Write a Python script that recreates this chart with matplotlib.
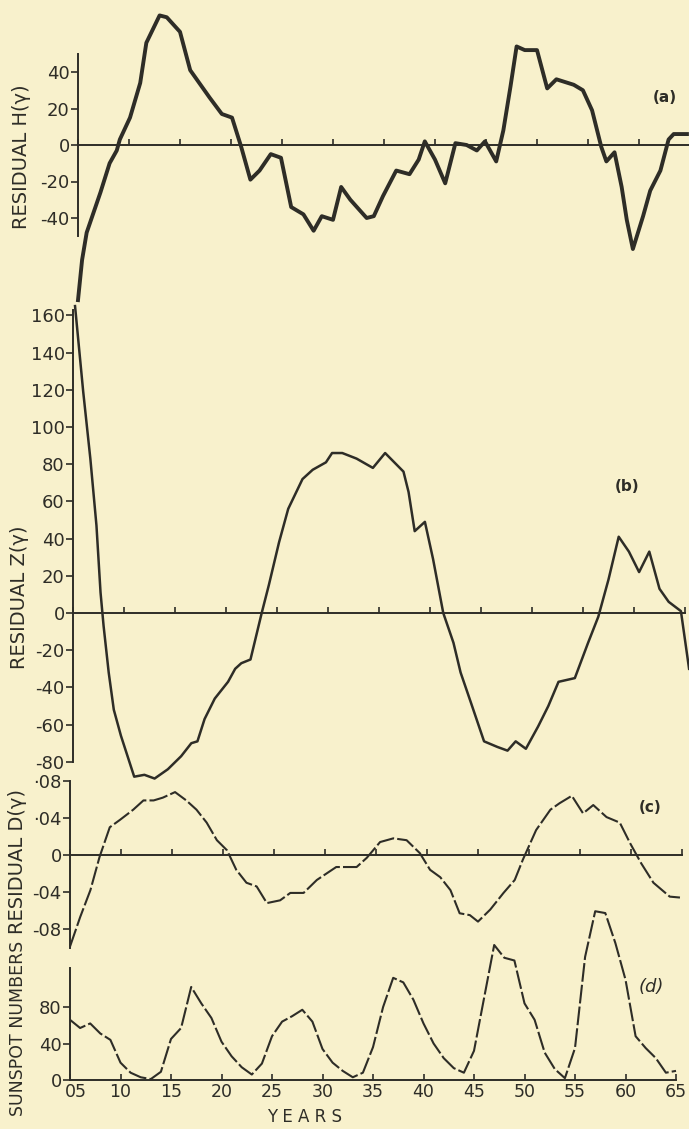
import matplotlib
matplotlib.use("Agg")
import matplotlib.pyplot as plt
from matplotlib.transforms import ScaledTranslation

# ---- data ----
years_ticks = [5, 10, 15, 20, 25, 30, 35, 40, 45, 50, 55, 60, 65]
year_labels = ["05", "10", "15", "20", "25", "30", "35", "40", "45", "50", "55", "60", "65"]

# (a) residual H
h_years = [5.0, 5.4, 5.85, 7.2, 8.1, 8.8, 9.1, 10.1, 11.1, 11.7, 13.0, 13.7, 15.0, 16.0,
           17.9, 19.1, 20.1, 21.0, 21.9, 22.8, 23.9, 24.9, 25.9, 27.1, 28.1, 28.9, 30.0,
           30.8, 31.7, 33.3, 34.0, 34.9, 36.2, 37.5, 38.4, 39.0, 40.0, 41.0, 42.0, 43.1,
           44.1, 44.9, 46.0, 46.7, 47.4, 48.0, 48.8, 50.0, 51.0, 51.9, 53.6, 54.5, 55.4,
           56.3, 56.8, 57.6, 58.3, 58.8, 59.4, 60.4, 61.1, 62.1, 62.9, 63.4, 64.7]
h_resid = [-85, -63, -48, -26, -10, -3, 3, 15, 34, 56, 71, 70, 62, 41,
           26, 17, 15, -1, -19, -14, -5, -7, -34, -38, -47, -39, -41,
           -23, -30, -40, -39, -28, -14, -16, -8, 2, -8, -21, 1, 0,
           -3, 2, -9, 8, 32, 54, 52, 52, 31, 36, 33, 30, 19,
           -1, -9, -4, -23, -41, -57, -39, -25, -14, 3, 6, 6]

# (b) residual Z
z_years = [5.2, 6.0, 6.7, 7.3, 7.7, 8.0, 8.5, 9.0, 9.7, 11.0, 12.0, 13.0, 14.3, 15.6,
           16.6, 17.2, 17.9, 18.9, 20.2, 20.9, 21.5, 22.4, 23.5, 24.2, 25.2, 26.1, 27.5,
           28.5, 29.8, 30.4, 31.4, 32.8, 34.4, 35.6, 37.4, 37.9, 38.5, 39.5, 40.3, 41.3,
           42.3, 43.0, 44.0, 45.3, 46.6, 47.6, 48.4, 49.4, 50.6, 51.6, 52.6, 54.2, 55.5,
           56.5, 57.5, 58.5, 59.5, 60.5, 61.5, 62.5, 63.4, 64.6, 65.4]
z_resid = [165, 119, 83, 47, 11, -7, -32, -52, -66, -88, -87, -89, -84, -77,
           -70, -69, -57, -46, -37, -30, -27, -25, 0, 15, 38, 56, 72,
           77, 81, 86, 86, 83, 78, 86, 76, 65, 44, 49, 29, 0,
           -16, -32, -48, -69, -72, -74, -69, -73, -61, -50, -37, -35, -16,
           -2, 18, 41, 33, 22, 33, 13, 6, 1, -30]

# (c) residual D
d_years = [5.0, 6.0, 7.0, 7.9, 8.9, 9.9, 11.2, 12.2, 13.2, 14.1, 15.3, 16.4, 17.4, 18.4,
           19.4, 20.4, 21.3, 22.3, 23.3, 24.3, 25.6, 26.6, 27.9, 29.2, 31.1, 33.1, 34.1,
           35.4, 36.7, 38.0, 39.3, 40.3, 41.3, 42.3, 43.2, 44.2, 45.0, 46.2, 47.5, 48.6,
           49.4, 50.7, 52.1, 53.0, 54.2, 55.3, 56.3, 57.6, 58.9, 59.9, 61.0, 62.2, 63.8, 64.8]
d_resid = [-0.099, -0.067, -0.038, -0.002, 0.030, 0.038, 0.049, 0.059, 0.059, 0.062, 0.068,
           0.059, 0.049, 0.035, 0.016, 0.005, -0.016, -0.030, -0.034, -0.052, -0.049,
           -0.041, -0.041, -0.027, -0.013, -0.013, -0.003, 0.014, 0.018, 0.016, 0.002,
           -0.016, -0.024, -0.038, -0.063, -0.065, -0.072, -0.059, -0.041, -0.027,
           -0.005, 0.027, 0.049, 0.056, 0.064, 0.045, 0.054, 0.041, 0.035, 0.013,
           -0.009, -0.030, -0.045, -0.046]

# (d) sunspot numbers, yearly 1905-1965
ss_years = list(range(5, 66))
sunspots = [66, 57, 62, 51, 44, 19, 8, 3, 1, 9, 45, 57, 102, 84, 68, 42, 26, 14, 6, 18,
            48, 64, 70, 77, 64, 34, 19, 10, 3, 8, 36, 80, 112, 107, 88, 62, 40, 24, 13, 8,
            32, 90, 148, 134, 131, 84, 66, 30, 12, 2, 35, 135, 185, 183, 150, 110, 48, 35,
            24, 8, 10]

INK = "#2e2d27"
PAPER = "#f8f1cc"
W, H = 689, 1129

plt.rcParams["font.family"] = ["DejaVu Sans"]
fig = plt.figure(figsize=(W / 100, H / 100), dpi=100, facecolor=PAPER)


def make_ax(left, top, bottom, ylim, width=612):
    # position given in pixels of the reference
    ax = fig.add_axes([left / W, 1 - bottom / H, width / W, (bottom - top) / H])
    ax.set_facecolor("none")
    ax.set_xlim(5, 65)
    ax.set_ylim(*ylim)
    for s in ("top", "right"):
        ax.spines[s].set_visible(False)
    ax.spines["left"].set_color(INK)
    ax.spines["left"].set_linewidth(1.4)
    ax.spines["bottom"].set_color(INK)
    ax.spines["bottom"].set_linewidth(1.4)
    ax.spines["bottom"].set_position(("data", 0))
    ax.set_xticks(years_ticks)
    ax.tick_params(axis="x", direction="in", length=4, width=1.2, color=INK,
                   labelbottom=False)
    ax.tick_params(axis="y", direction="out", length=5, width=1.2, color=INK,
                   labelcolor=INK, labelsize=13, pad=1)
    ax.tick_params(axis="y", which="minor", direction="in", length=6, width=1.2,
                   color=INK)
    return ax


# (a)
ax_a = make_ax(78, 53.75, 236.25, (-50, 50))
ax_a.set_yticks([-40, -20, 0, 20, 40])
ax_a.set_yticklabels(["-40", "-20", "0", "20", "40"])
ax_a.plot(h_years, h_resid, color=INK, lw=2.8, clip_on=False, solid_joinstyle="round")
ax_a.text(62.5, 26, "(a)", color=INK, fontsize=11, ha="center", va="center",
          weight="bold")

# (b)
ax_b = make_ax(73, 309.8, 761.8, (-80, 163))
zt = [-80, -60, -40, -20, 0, 20, 40, 60, 80, 100, 120, 140, 160]
ax_b.set_yticks(zt)
ax_b.set_yticklabels([str(v) for v in zt])
ax_b.set_yticks([-80], minor=True)
ax_b.plot(z_years, z_resid, color=INK, lw=1.8, clip_on=False)
ax_b.text(59.3, 68, "(b)", color=INK, fontsize=11, ha="center", va="center",
          weight="bold")

# (c)
ax_c = make_ax(70, 781, 947.5, (-0.1, 0.08))
ax_c.set_yticks([-0.08, -0.04, 0, 0.04, 0.08])
ax_c.set_yticklabels(["-08", "-04", "0", "·04", "·08"])
ax_c.set_yticks([0.08], minor=True)
ax_c.plot(d_years, d_resid, color=INK, lw=1.5, ls=(0, (9, 1.5)), clip_on=False)
ax_c.text(61.9, 0.051, "(c)", color=INK, fontsize=11, ha="center", va="center",
          weight="bold")

# (d)
ax_d = make_ax(70, 967.8, 1080, (0, 123), width=606)
ax_d.set_yticks([0, 40, 80])
ax_d.set_yticklabels(["0", "40", "80"])
ax_d.tick_params(axis="x", labelbottom=True, labelsize=12.5, labelcolor=INK, pad=2)
ax_d.set_xticklabels(year_labels)
# first year label sits a little right of the corner, as on the original
first = ax_d.get_xticklabels()[0]
first.set_transform(first.get_transform() + ScaledTranslation(6 / 100, 0, fig.dpi_scale_trans))
ax_d.plot(ss_years, sunspots, color=INK, lw=1.5, ls=(0, (9, 1.5)), clip_on=False)
ax_d.text(62.6, 102, "(d)", color=INK, fontsize=13, ha="center", va="center",
          style="italic")

# axis titles
lab = dict(color=INK, rotation=90, ha="center", va="center")
fig.text(22 / W, 1 - 157 / H, "RESIDUAL H(γ)", fontsize=14, **lab)
fig.text(20 / W, 1 - 597 / H, "RESIDUAL Z(γ)", fontsize=14, **lab)
fig.text(18 / W, 1 - 862 / H, "RESIDUAL D(γ)", fontsize=14, **lab)
fig.text(18 / W, 1 - 1028 / H, "SUNSPOT NUMBERS", fontsize=12.5, **lab)
fig.text(305 / W, 1 - 1117 / H, "Y E A R S", color=INK, fontsize=12,
         ha="center", va="center")

fig.savefig("out.png", dpi=100, facecolor=PAPER)
